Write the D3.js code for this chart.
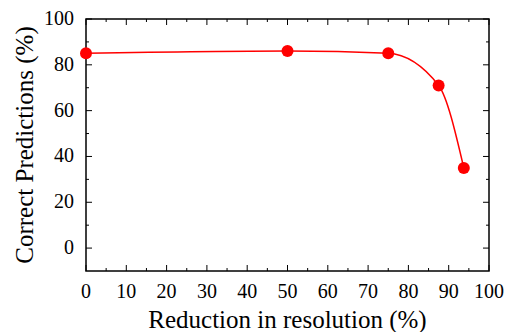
<!DOCTYPE html>
<html>
<head>
<meta charset="utf-8">
<script src="https://cdn.jsdelivr.net/npm/d3@7"></script>
<style>
  body { margin: 0; background: #fff; }
</style>
</head>
<body>
<div id="viz"></div>
<script>
const reduction = [0, 50, 75, 87.5, 93.75];
const correct = [85, 86, 85, 71, 35];
const xTicks = [0, 10, 20, 30, 40, 50, 60, 70, 80, 90, 100];
const yTicks = [0, 20, 40, 60, 80, 100];

const W = 505, H = 332;
const margin = {top: 19, right: 16, bottom: 61, left: 86};
const width = W - margin.left - margin.right;
const height = H - margin.top - margin.bottom;
const serif = "\"Liberation Serif\"";

const svg = d3.select("#viz")
  .append("svg")
    .attr("width", W)
    .attr("height", H)
  .append("g")
    .attr("transform", `translate(${margin.left},${margin.top})`);

const x = d3.scaleLinear().domain([0, 100]).range([0, width]);
const y = d3.scaleLinear().domain([-10, 100]).range([height, 0]);

const xMinor = d3.range(5, 100, 10);
const yMinor = d3.range(-10, 100, 20).filter(v => v > -10);

// ticks on all four sides, pointing inward
function ticks(g, vals, len, side) {
  vals.forEach(v => {
    let x1, y1, x2, y2;
    if (side === "bottom") { x1 = x2 = x(v); y1 = height; y2 = height - len; }
    if (side === "top") { x1 = x2 = x(v); y1 = 0; y2 = len; }
    if (side === "left") { y1 = y2 = y(v); x1 = 0; x2 = len; }
    if (side === "right") { y1 = y2 = y(v); x1 = width; x2 = width - len; }
    g.append("line")
      .attr("x1", x1).attr("y1", y1).attr("x2", x2).attr("y2", y2)
      .attr("stroke", "#000").attr("stroke-width", 1);
  });
}

const tg = svg.append("g");
["bottom", "top"].forEach(s => { ticks(tg, xTicks, 6, s); ticks(tg, xMinor, 3, s); });
["left", "right"].forEach(s => { ticks(tg, yTicks, 6, s); ticks(tg, yMinor, 3, s); });

svg.append("rect")
  .attr("x", 0).attr("y", 0)
  .attr("width", width).attr("height", height)
  .attr("fill", "none")
  .attr("stroke", "#000")
  .attr("stroke-width", 1.5);

svg.selectAll(".xlab")
  .data(xTicks)
  .join("text")
    .attr("class", "xlab")
    .attr("x", d => x(d))
    .attr("y", height + 27)
    .attr("text-anchor", "middle")
    .style("font-family", serif)
    .style("font-size", "20px")
    .text(d => d);

svg.selectAll(".ylab")
  .data(yTicks)
  .join("text")
    .attr("class", "ylab")
    .attr("x", -12)
    .attr("y", d => y(d) + 6)
    .attr("text-anchor", "end")
    .style("font-family", serif)
    .style("font-size", "20px")
    .text(d => d);

const pts = reduction.map((r, i) => ({r: r, c: correct[i]}));

const line = d3.line()
  .x(d => x(d.r))
  .y(d => y(d.c))
  .curve(d3.curveMonotoneX);

svg.append("path")
  .datum(pts)
  .attr("d", line)
  .attr("fill", "none")
  .attr("stroke", "#ff0000")
  .attr("stroke-width", 1.5);

svg.selectAll(".dot")
  .data(pts)
  .join("circle")
    .attr("class", "dot")
    .attr("cx", d => x(d.r))
    .attr("cy", d => y(d.c))
    .attr("r", 6)
    .attr("fill", "#ff0000");

svg.append("text")
  .attr("x", width / 2)
  .attr("y", height + 57)
  .attr("text-anchor", "middle")
  .style("font-family", serif)
  .style("font-size", "25px")
  .text("Reduction in resolution (%)");

svg.append("text")
  .attr("transform", "rotate(-90)")
  .attr("x", -height / 2)
  .attr("y", -53)
  .attr("text-anchor", "middle")
  .style("font-family", serif)
  .style("font-size", "25px")
  .text("Correct Predictions (%)");
</script>
</body>
</html>
